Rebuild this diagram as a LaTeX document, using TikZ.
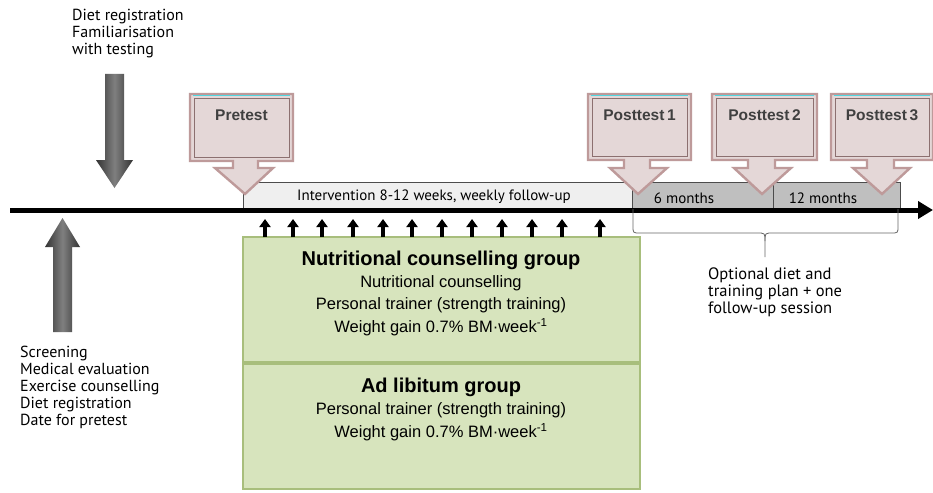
\documentclass[tikz,border=0pt]{standalone}
\usepackage{fontspec}
\setmainfont{Liberation Sans}
\newfontfamily\ptsans{PT Sans}
\usetikzlibrary{arrows.meta}
\definecolor{callfill}{HTML}{E4D7D7}
\definecolor{calledge}{HTML}{BE9A9A}
\definecolor{callin}{HTML}{8C7070}
\definecolor{callcyan}{HTML}{4FD6E0}
\definecolor{greenfill}{HTML}{D7E4BD}
\definecolor{greenedge}{HTML}{A8BE7C}
\definecolor{barlight}{HTML}{EFEFEF}
\definecolor{bardark}{HTML}{BFBFBF}
\definecolor{labtxt}{HTML}{404040}
\tikzset{
  callout/.style={fill=callfill,draw=calledge,line width=2.4pt,line join=miter},
  calloutin/.style={draw=callin,line width=0.5pt},
  calllab/.style={font=\fontsize{15.5}{17}\selectfont\bfseries,text=labtxt,inner sep=0pt},
  greenbox/.style={fill=greenfill,draw=greenedge,line width=1.8pt},
  gtitle/.style={font=\fontsize{20}{22}\selectfont\bfseries,inner sep=0pt},
  gsub/.style={font=\fontsize{16.5}{18}\selectfont,inner sep=0pt},
  plain/.style={font=\ptsans\fontsize{16}{17}\selectfont,align=left,inner sep=0pt,anchor=north west},
  bartxt/.style={font=\ptsans\fontsize{15}{16}\selectfont,inner sep=0pt},
  bar/.style={draw=black!70,line width=0.8pt},
  smallarrow/.style={-{Triangle[length=8pt,width=11pt]},line width=4pt},
}
\begin{document}
\begin{tikzpicture}[x=1pt,y=-1pt]
\useasboundingbox (0,0) rectangle (933,492);
\fill[white] (0,0) rectangle (933,492);

% bars above timeline
\draw[bar,fill=barlight] (243,182) rectangle (632,209);
\draw[bar,fill=bardark] (632,182) rectangle (773,209);
\draw[bar,fill=bardark] (773,182) rectangle (900,209);
\node[bartxt] (interv) at (434,197) {Intervention 8-12 weeks, weekly follow-up};
\node[bartxt] (six) at (684,198) {6 months};
\node[bartxt] (twelve) at (823,198) {12 months};

% timeline
\coordinate (tl0) at (10,210);
\coordinate (tl1) at (933,210);
\draw[line width=5pt,-{Triangle[length=15pt,width=17pt]}] (tl0) -- (tl1);

% brace
\draw[black!60,line width=0.8pt] (633,209) -- (633,226) .. controls (633,233) .. (640,233) -- (757,233)
  .. controls (765,233) .. (765,241) -- (765,257);
\draw[black!60,line width=0.8pt] (765,241) .. controls (765,233) .. (773,233) -- (891,233)
  .. controls (898,233) .. (898,226) -- (898,209);
\node[plain,font=\ptsans\fontsize{16.5}{17}\selectfont] (opt) at (708,268) {Optional diet and\\training plan + one\\follow-up session};

% callouts
\foreach \L/\R/\B/\sa/\sb/\ta/\tb/\tip/\nm/\txt in {
  190/293/161/233/258/215/273/245/pre/Pretest,
  588/691/160/624/650/610/667/638/post1/Posttest\,1,
  712/817/160/748/775/734/791/762/post2/Posttest\,2,
  831/933/160/867/894/853/910/882/post3/Posttest\,3}{
  \draw[callout] (\L,94) -- (\R,94) -- (\R,\B) -- (\sb,\B) -- (\sb,168) -- (\tb,168) -- (\tip,194)
     -- (\ta,168) -- (\sa,168) -- (\sa,\B) -- (\L,\B) -- cycle;
  \draw[calloutin] (\L+4,98) rectangle (\R-4,\B-4);
  \draw[callcyan,line width=1pt] (\L+3,96) -- (\R-3,96);
  \node[calllab] (\nm) at ({(\L+\R)/2},115) {\txt};
}

% green boxes
\draw[greenbox] (243,237) rectangle (640,362);
\draw[greenbox] (243,364) rectangle (640,489);
\node[gtitle] (ncg) at (441,260) {Nutritional counselling group};
\node[gsub] (ncg1) at (441,283) {Nutritional counselling};
\node[gsub] (ncg2) at (441,305) {Personal trainer (strength training)};
\node[gsub] (ncg3) at (441,327) {Weight gain 0.7\% BM·week\textsuperscript{-1}};
\node[gtitle] (alg) at (441,387) {Ad libitum group};
\node[gsub] (alg1) at (441,410) {Personal trainer (strength training)};
\node[gsub] (alg2) at (441,432) {Weight gain 0.7\% BM·week\textsuperscript{-1}};

% small weekly arrows
\foreach \x in {265,293,322,353,383,412,442,472,502,532,562,600}{
  \draw[smallarrow] (\x,237) -- (\x,219);
}

% big grey arrows
\shade[left color=black!80,right color=black!80,middle color=black!50]
  (105,74) -- (124,74) -- (124,160) -- (133,160) -- (114.5,188) -- (96,160) -- (105,160) -- cycle;
\shade[left color=black!80,right color=black!80,middle color=black!50]
  (53,332) -- (72,332) -- (72,247) -- (80,247) -- (62.5,218) -- (45,247) -- (53,247) -- cycle;

% left texts
\node[plain] (topnote) at (72,9) {Diet registration\\Familiarisation\\with testing};
\node[plain] (botnote) at (20,346) {Screening\\Medical evaluation\\Exercise counselling\\Diet registration\\Date for pretest};
\end{tikzpicture}
\end{document}
